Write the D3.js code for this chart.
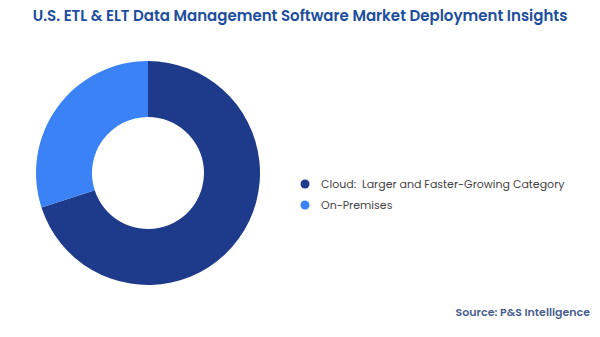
<!DOCTYPE html>
<html><head><meta charset="utf-8">
<script src="https://cdn.jsdelivr.net/npm/d3@7"></script>
<style>body{margin:0;background:#fff;}svg{display:block;}</style>
</head><body>
<svg id="chart" width="600" height="337"></svg>
<script>
const categories = ["Cloud:  Larger and Faster-Growing Category", "On-Premises"];
const shares = [70, 30];
const colors = ["#1e3a8a", "#3b82f6"];
const titleText = "U.S. ETL & ELT Data Management Software Market Deployment Insights";
const sourceText = "Source: P&S Intelligence";

const svg = d3.select("#chart");
const font = "Poppins, Inter, 'Open Sans', sans-serif";

svg.append("text").attr("x", 300).attr("y", 21).attr("text-anchor", "middle")
  .attr("font-family", font).attr("font-weight", 600).attr("font-size", 15)
  .attr("fill", "#1d4e9e").text(titleText);

const data = categories.map((c, i) => ({cat: c, v: shares[i], color: colors[i]}));
const pie = d3.pie().value(d => d.v).sort(null);
const arc = d3.arc().innerRadius(56).outerRadius(112);
const g = svg.append("g").attr("transform", "translate(148,173)");
g.selectAll("path").data(pie(data)).join("path").attr("d", arc).attr("fill", d => d.data.color);

const leg = svg.append("g");
const y = d3.scalePoint().domain(categories).range([184, 205]);
leg.selectAll("circle").data(data).join("circle")
  .attr("cx", 305).attr("cy", d => y(d.cat)).attr("r", 4.5).attr("fill", d => d.color);
leg.selectAll("text").data(data).join("text")
  .attr("x", 321).attr("y", d => y(d.cat)).attr("dy", "0.35em")
  .attr("font-family", font).attr("font-size", 11).attr("fill", "#444")
  .style("white-space", "pre").attr("xml:space", "preserve").text(d => d.cat);

svg.append("text").attr("x", 590).attr("y", 316).attr("text-anchor", "end")
  .attr("font-family", font).attr("font-weight", 600).attr("font-size", 11)
  .attr("fill", "#4a5f8f").text(sourceText);
</script>
</body></html>
